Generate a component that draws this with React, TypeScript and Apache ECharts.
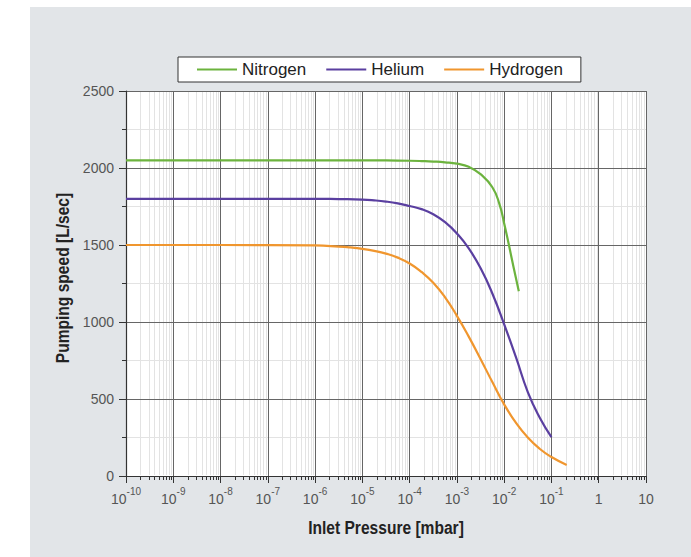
import React, { useEffect, useRef } from "react";
import * as echarts from "echarts";

// ---- data (pressure in mbar, pumping speed in L/sec) ----
const nitrogenPressure = [1e-10, 1e-8, 1e-6, 1e-5, 3.16e-5, 1e-4, 1.78e-4, 3.16e-4, 5.62e-4, 1e-3, 1.78e-3, 3.16e-3, 5.62e-3, 7.94e-3, 1e-2, 1.26e-2, 1.58e-2, 2.04e-2];
const nitrogenSpeed = [2050, 2050, 2050, 2050, 2049, 2047, 2045, 2042, 2037, 2028, 2008, 1960, 1875, 1765, 1640, 1500, 1355, 1200];

const heliumPressure = [1e-10, 1e-8, 1e-6, 3.16e-6, 1e-5, 1.78e-5, 3.16e-5, 5.62e-5, 1e-4, 1.78e-4, 3.16e-4, 5.62e-4, 1e-3, 1.78e-3, 3.16e-3, 5.62e-3, 1e-2, 1.78e-2, 3.16e-2, 5.62e-2, 1e-1];
const heliumSpeed = [1800, 1800, 1800, 1798, 1795, 1790, 1782, 1770, 1753, 1733, 1700, 1648, 1575, 1478, 1350, 1185, 985, 770, 545, 380, 253];

const hydrogenPressure = [1e-10, 1e-8, 1e-6, 3.16e-6, 5.62e-6, 1e-5, 1.78e-5, 3.16e-5, 5.62e-5, 1e-4, 1.78e-4, 3.16e-4, 5.62e-4, 1e-3, 1.78e-3, 3.16e-3, 5.62e-3, 1e-2, 1.78e-2, 3.16e-2, 5.62e-2, 1e-1, 2.1e-1];
const hydrogenSpeed = [1500, 1500, 1497, 1490, 1484, 1475, 1462, 1444, 1418, 1380, 1325, 1255, 1160, 1040, 905, 760, 610, 465, 345, 250, 177, 123, 72];

const seriesNames = ["Nitrogen", "Helium", "Hydrogen"];
const seriesColors = ["#6cb33e", "#5a3fa0", "#f0962e"];

const xMin = 1e-10;
const xMax = 10;
const yMin = 0;
const yMax = 2500;
const yInterval = 500;

const xTitle = "Inlet Pressure [mbar]";
const yTitle = "Pumping speed [L/sec]";

// minor decade positions (2..9 × 10^n) for the log axis
const minorPressures: number[] = [];
for (let e = -10; e <= 0; e++) {
  for (let k = 2; k <= 9; k++) minorPressures.push(k * Math.pow(10, e));
}

const zip = (xs: number[], ys: number[]) => xs.map((x, i) => [x, ys[i]]);

const FONT = "'Liberation Sans', Arial, sans-serif";

// layout
const GRID_LEFT = 126;
const GRID_TOP = 91;
const GRID_RIGHT = 45;
const GRID_BOTTOM = 81;
const W = 691;
const H = 557;

export default function App() {
  const ref = useRef<HTMLDivElement>(null);

  useEffect(() => {
    if (!ref.current) return;
    const chart = echarts.init(ref.current, undefined, { renderer: "svg" });

    const lineSeries = [
      zip(nitrogenPressure, nitrogenSpeed),
      zip(heliumPressure, heliumSpeed),
      zip(hydrogenPressure, hydrogenSpeed),
    ].map((data, i) => ({
      name: seriesNames[i],
      type: "line",
      data,
      smooth: 0.5,
      symbol: "none",
      showSymbol: false,
      z: 5,
      lineStyle: { color: seriesColors[i], width: 2.2 },
      itemStyle: { color: seriesColors[i] },
    }));

    const plotW = W - GRID_LEFT - GRID_RIGHT;
    const plotH = H - GRID_TOP - GRID_BOTTOM;

    const option: any = {
      animation: false,
      backgroundColor: "#ffffff",
      graphic: [
        {
          type: "rect",
          left: 30,
          top: 7,
          shape: { width: W - 30, height: H - 7 },
          style: { fill: "#e2e5e8" },
          z: -10,
          silent: true,
        },
        {
          type: "rect",
          left: GRID_LEFT,
          top: GRID_TOP,
          shape: { width: plotW, height: plotH },
          style: { fill: "#ffffff", stroke: "#555555", lineWidth: 1 },
          z: -9,
          silent: true,
        },
        {
          type: "text",
          x: GRID_LEFT + plotW / 2,
          y: 527,
          scaleX: 0.82,
          style: {
            text: xTitle,
            font: `bold 19px ${FONT}`,
            fill: "#222222",
            align: "center",
            verticalAlign: "middle",
          },
          z: 10,
          silent: true,
        },
        {
          type: "text",
          x: 62,
          y: 278,
          rotation: Math.PI / 2,
          scaleX: 0.82,
          style: {
            text: yTitle,
            font: `bold 19px ${FONT}`,
            fill: "#222222",
            align: "center",
            verticalAlign: "middle",
          },
          z: 10,
          silent: true,
        },
      ],
      legend: {
        left: 178,
        top: 57,
        orient: "horizontal",
        data: seriesNames,
        icon: "rect",
        itemWidth: 40,
        itemHeight: 2,
        itemGap: 20,
        padding: [4, 18, 4, 19],
        backgroundColor: "#ffffff",
        borderColor: "#333333",
        borderWidth: 1,
        textStyle: { fontFamily: FONT, fontSize: 17, color: "#222222" },
        selectedMode: false,
      },
      grid: {
        left: GRID_LEFT,
        right: GRID_RIGHT,
        top: GRID_TOP,
        bottom: GRID_BOTTOM,
        show: false,
        containLabel: false,
      },
      xAxis: {
        type: "log",
        logBase: 10,
        min: xMin,
        max: xMax,
        interval: 1,
        axisLine: { show: true, lineStyle: { color: "#333333", width: 1.2 } },
        axisTick: { show: true, length: 7, lineStyle: { color: "#333333" } },
        minorTick: { show: false },
        splitLine: { show: true, lineStyle: { color: "#666666", width: 1 } },
        axisLabel: {
          interval: 0,
          margin: 10,
          fontFamily: FONT,
          color: "#555555",
          formatter: (v: number) => {
            const e = Math.round(Math.log10(v));
            if (e === 0) return "{b|1}";
            if (e === 1) return "{b|10}";
            return `{b|10}{s|${e}}`;
          },
          rich: {
            b: { fontFamily: FONT, fontSize: 14, color: "#555555", lineHeight: 20, verticalAlign: "bottom" },
            s: { fontFamily: FONT, fontSize: 10, color: "#555555", lineHeight: 20, verticalAlign: "top" },
          },
        },
      },
      yAxis: {
        type: "value",
        min: yMin,
        max: yMax,
        interval: yInterval,
        axisLine: { show: true, lineStyle: { color: "#333333", width: 1.2 } },
        axisTick: { show: true, length: 7, lineStyle: { color: "#333333" } },
        minorTick: { show: true, splitNumber: 2, length: 4, lineStyle: { color: "#333333" } },
        splitLine: { show: true, lineStyle: { color: "#666666", width: 1 } },
        minorSplitLine: { show: true, lineStyle: { color: "#e3e3e3", width: 1 } },
        axisLabel: {
          margin: 12,
          fontFamily: FONT,
          fontSize: 14,
          color: "#555555",
          formatter: (v: number) => String(v),
        },
      },
      series: [
        {
          type: "custom",
          name: "minor",
          silent: true,
          clip: false,
          z: -5,
          data: minorPressures.map((p) => [p, 0]),
          encode: { x: 0, y: 1 },
          renderItem: (params: any, api: any) => {
            const x = api.value(0);
            const bottom = api.coord([x, yMin]);
            const top = api.coord([x, yMax]);
            const px = Math.round(bottom[0]) + 0.5;
            return {
              type: "group",
              children: [
                {
                  type: "line",
                  shape: { x1: px, y1: bottom[1] - 1, x2: px, y2: top[1] + 1 },
                  style: { stroke: "#e3e3e3", lineWidth: 1 },
                },
                {
                  type: "line",
                  shape: { x1: px, y1: bottom[1], x2: px, y2: bottom[1] + 4 },
                  style: { stroke: "#333333", lineWidth: 1 },
                },
              ],
            };
          },
        },
        ...lineSeries,
      ],
    };

    chart.setOption(option);
    return () => chart.dispose();
  }, []);

  return (
    <div
      ref={ref}
      style={{ position: "fixed", left: 0, top: 0, width: W, height: H }}
    />
  );
}
